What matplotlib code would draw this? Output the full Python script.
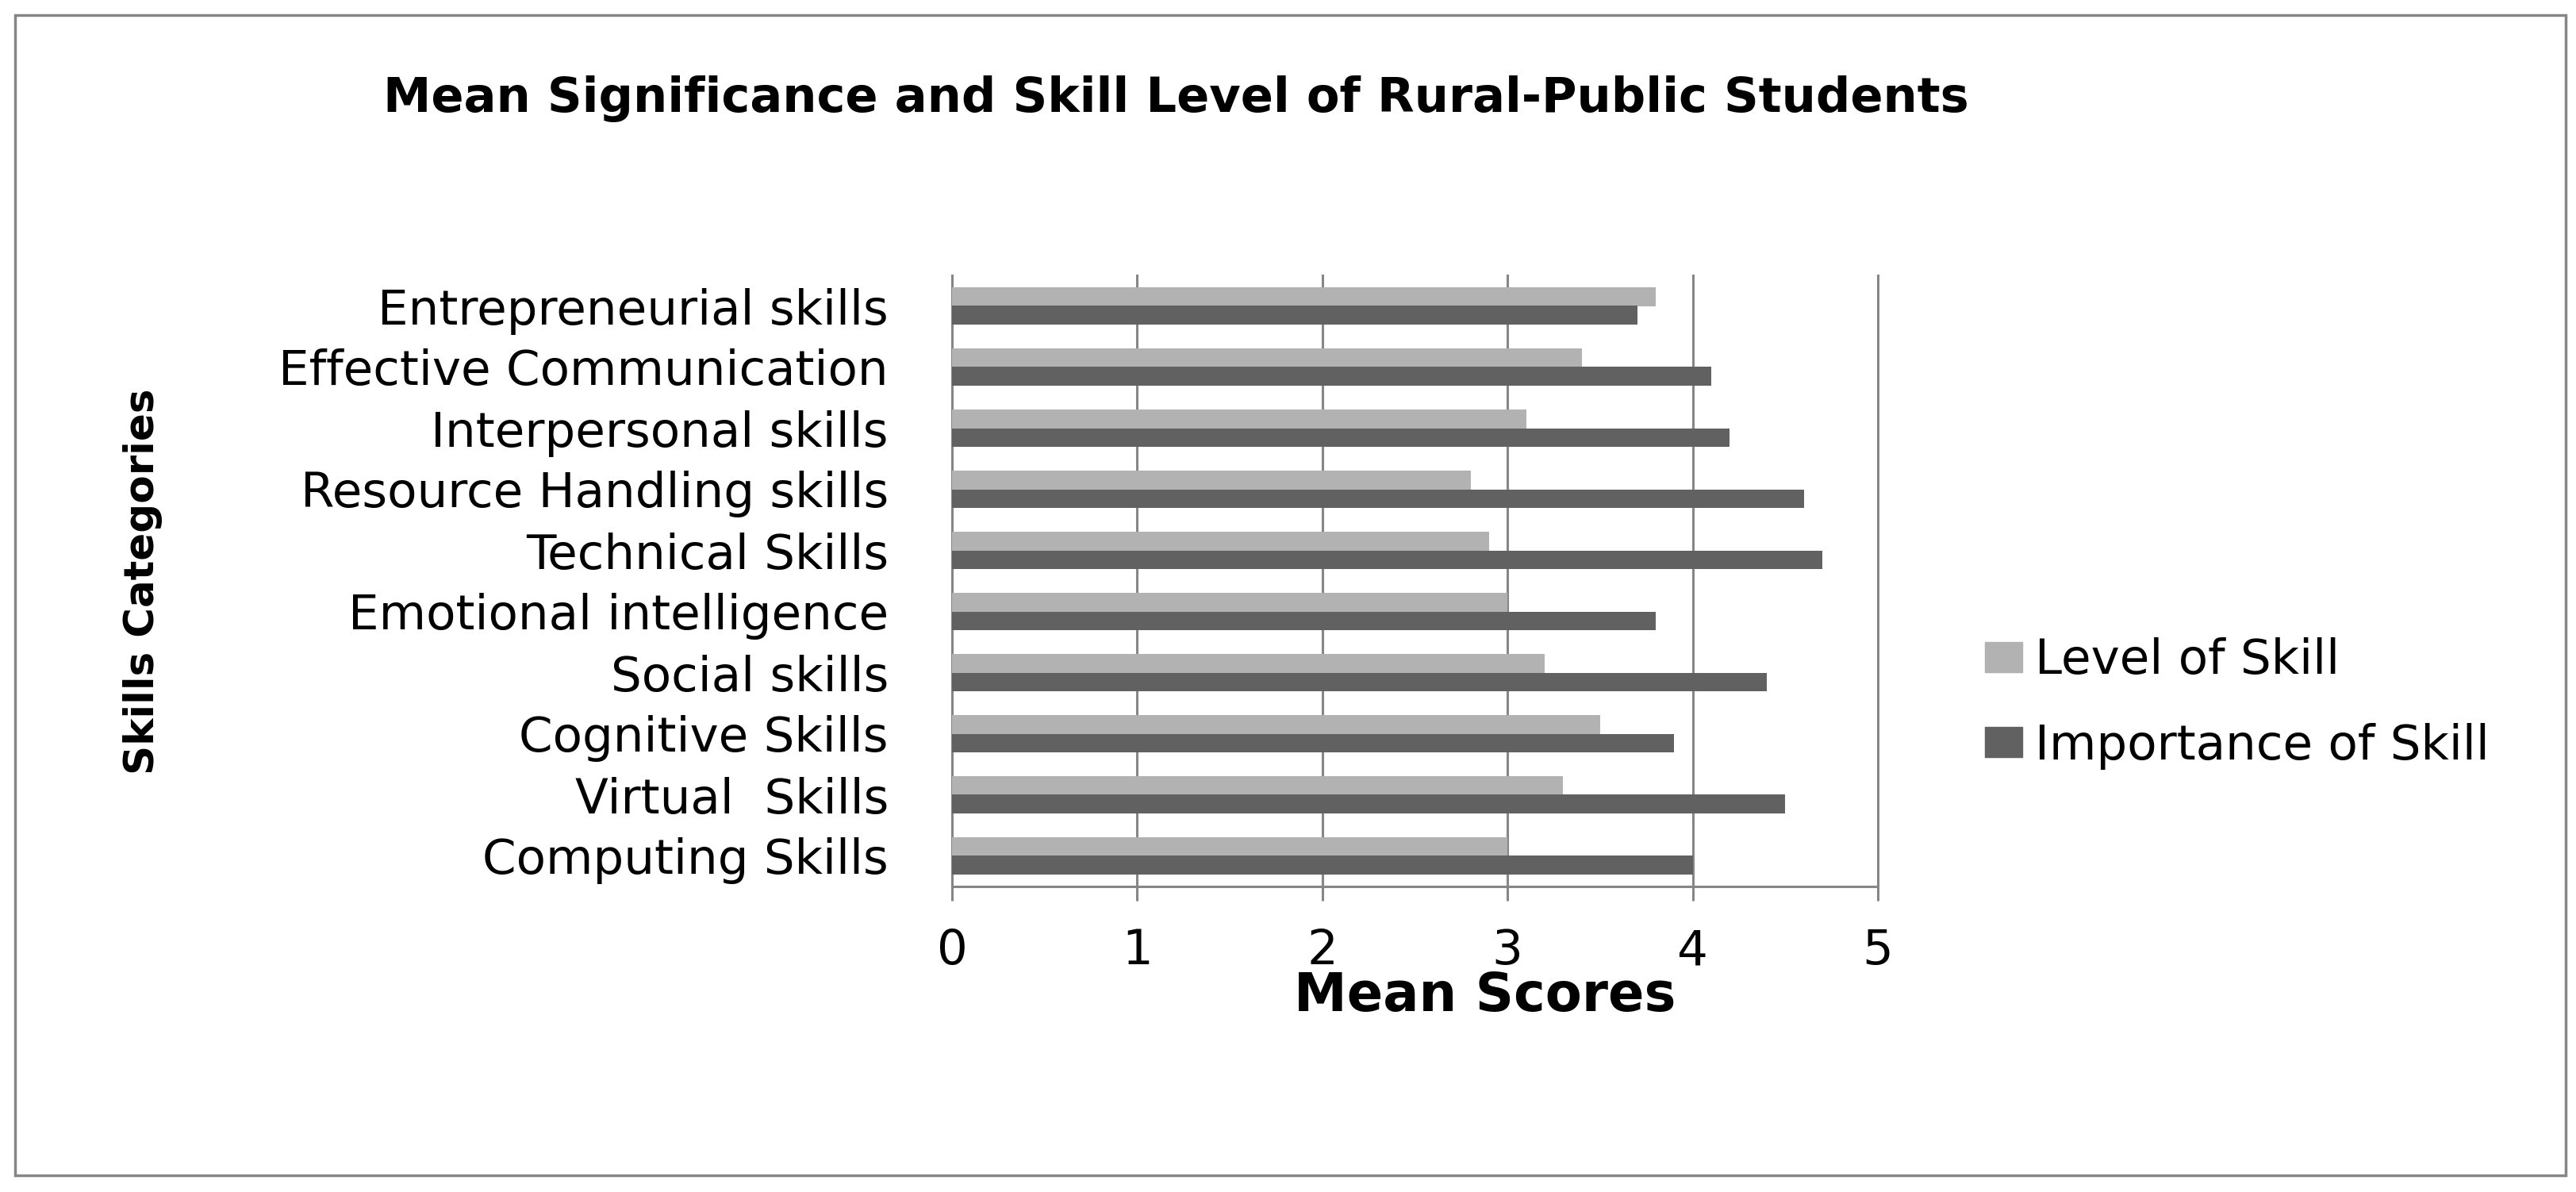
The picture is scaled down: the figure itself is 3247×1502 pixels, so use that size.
import matplotlib
matplotlib.use("Agg")
import matplotlib.pyplot as plt
from matplotlib.patches import Rectangle, Patch
import numpy as np

categories = ["Entrepreneurial skills", "Effective Communication", "Interpersonal skills",
              "Resource Handling skills", "Technical Skills", "Emotional intelligence",
              "Social skills", "Cognitive Skills", "Virtual  Skills", "Computing Skills"]
level_of_skill = [3.8, 3.4, 3.1, 2.8, 2.9, 3.0, 3.2, 3.5, 3.3, 3.0]
importance_of_skill = [3.7, 4.1, 4.2, 4.6, 4.7, 3.8, 4.4, 3.9, 4.5, 4.0]
series_names = ["Level of Skill", "Importance of Skill"]
x_ticks = [0, 1, 2, 3, 4, 5]

LIGHT = "#B2B2B2"
DARK = "#616161"
GRID = "#868686"

plt.rcParams["font.family"] = ["DejaVu Sans"]

W, H = 3248, 1502
DPI = 100
fig = plt.figure(figsize=(W / DPI, H / DPI), dpi=DPI)
fig.patch.set_facecolor("white")

def px2pt(p):
    return p * 72.0 / DPI

# outer frame
fig.patches.append(Rectangle((19 / W, 1 - 1481 / H), (3234 - 19) / W, (1481 - 19) / H,
                             transform=fig.transFigure, fill=False, edgecolor=GRID,
                             linewidth=2.5))

AX_L, AX_R, AX_T, AX_B = 1200, 2367, 347, 1117
ax = fig.add_axes([AX_L / W, 1 - AX_B / H, (AX_R - AX_L) / W, (AX_B - AX_T) / H])

n = len(categories)
y = np.arange(n)[::-1]
bh = 0.3
ax.barh(y + bh / 2, level_of_skill, height=bh, color=LIGHT, edgecolor="none", zorder=3)
ax.barh(y - bh / 2, importance_of_skill, height=bh, color=DARK, edgecolor="none", zorder=3)

ax.set_xlim(0, 5)
ax.set_ylim(-0.5, n - 0.5)
ax.set_xticks(x_ticks)
ax.set_xticklabels([str(t) for t in x_ticks], fontsize=36)
ax.set_yticks(y)
ax.set_yticklabels(categories, fontsize=36)

ax.grid(axis="x", color=GRID, linewidth=2.2, zorder=0)
for s in ["top", "right"]:
    ax.spines[s].set_visible(False)
for s in ["left", "bottom"]:
    ax.spines[s].set_color(GRID)
    ax.spines[s].set_linewidth(2.2)
ax.tick_params(axis="x", length=px2pt(18), width=2.2, color=GRID, pad=px2pt(34),
               direction="out")
ax.tick_params(axis="y", length=0, pad=px2pt(80))

ax.set_xlabel("Mean Scores", fontsize=44, fontweight="bold")
ax.xaxis.set_label_coords((1872 - AX_L) / (AX_R - AX_L), (AX_B - 1255) / (AX_B - AX_T))
ax.xaxis.label.set_verticalalignment("center")

ylab = fig.text(180 / W, 1 - 733 / H, "Skills Categories", rotation=90, fontsize=40,
                fontweight="bold", ha="center", va="center")
title = fig.text(1482 / W, 1 - 124 / H,
                 "Mean Significance and Skill Level of Rural-Public Students",
                 fontsize=40, fontweight="bold", ha="center", va="center")

fig.canvas.draw()
r = fig.canvas.get_renderer()

def fit_w(t, target):
    w = t.get_window_extent(r).width
    t.set_fontsize(t.get_fontsize() * target / w)

def fit_h(t, target):
    h = t.get_window_extent(r).height
    t.set_fontsize(t.get_fontsize() * target / h)

# tick labels: fit on longest label
tl = ax.get_yticklabels()
scale = 770.0 / tl[1].get_window_extent(r).width
tick_fs = 36 * scale
ax.tick_params(axis="y", labelsize=tick_fs)
ax.tick_params(axis="x", labelsize=tick_fs)
fit_w(title, 1995)
fit_w(ax.xaxis.label, 482)
fit_h(ylab, 485)

for gl in ax.get_xgridlines():
    gl.set_clip_on(False)

# legend: measure text size first
probe = fig.text(0, 0, series_names[1], fontsize=tick_fs)
fig.canvas.draw()
leg_fs = tick_fs * 573.0 / probe.get_window_extent(r).width
probe.remove()
lf_px = leg_fs * DPI / 72.0
handles = [Patch(color=LIGHT), Patch(color=DARK)]

def make_legend(ls, anchor_y):
    return fig.legend(handles, series_names, loc="upper left",
                      bbox_to_anchor=(2502 / W, 1 - anchor_y / H), frameon=False,
                      fontsize=leg_fs, handlelength=47 / lf_px, handleheight=36 / lf_px,
                      handletextpad=16 / lf_px, labelspacing=ls, borderpad=0,
                      borderaxespad=0)

leg = make_legend(0.5, 790)
fig.canvas.draw()
t = leg.get_texts()
b0, b1 = t[0].get_window_extent(r), t[1].get_window_extent(r)
gap = (b0.y0 + b0.y1) / 2 - (b1.y0 + b1.y1) / 2
ls = 0.5 + (107 - gap) / lf_px
leg.remove()
leg = make_legend(ls, 790)
fig.canvas.draw()
t = leg.get_texts()
b0 = t[0].get_window_extent(r)
cy = H - (b0.y0 + b0.y1) / 2
leg.set_bbox_to_anchor((2502 / W, 1 - (790 + (833 - cy)) / H), transform=fig.transFigure)

fig.savefig("out.png", dpi=DPI, facecolor="white")
